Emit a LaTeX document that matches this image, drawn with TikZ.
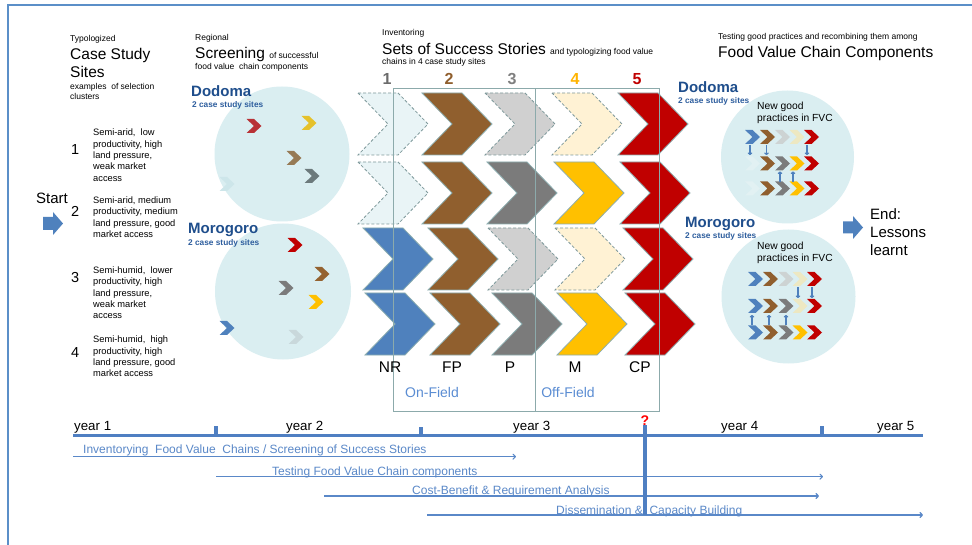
\documentclass[tikz,border=0pt]{standalone}
\usepackage{fontspec}
\setmainfont{Liberation Sans}
\usetikzlibrary{arrows.meta}

\definecolor{frameblue}{HTML}{5B8FC8}
\definecolor{cNR}{HTML}{4F81BD}
\definecolor{cFP}{HTML}{905F2E}
\definecolor{cP}{HTML}{7B7B7B}
\definecolor{cPl}{HTML}{D0D0D0}
\definecolor{cM}{HTML}{FFC000}
\definecolor{cMl}{HTML}{FFF2D4}
\definecolor{cCP}{HTML}{C00000}
\definecolor{cGhost}{HTML}{E9F4F6}
\definecolor{edgec}{HTML}{8DAEB0}
\definecolor{dashc}{HTML}{7E999B}
\definecolor{boxc}{HTML}{8CAAAB}
\definecolor{circ}{HTML}{DAEEF1}
\definecolor{sitec}{HTML}{1F4E8C}
\definecolor{sitesubc}{HTML}{2E5E9E}
\definecolor{tlc}{HTML}{4F7FC2}
\definecolor{tltext}{HTML}{5A88C8}
\definecolor{fieldc}{HTML}{5B8DD3}
\definecolor{numgray}{HTML}{6B6B6B}
\definecolor{numgray2}{HTML}{7F7F7F}
\definecolor{numyel}{HTML}{FFB400}
\definecolor{tinyl}{HTML}{CDD3D3}
\definecolor{tinycream}{HTML}{EDE8C2}
\definecolor{tinyfaint}{HTML}{E2F1F3}
% muted colours of the screening markers
\definecolor{mred}{HTML}{B83236}
\definecolor{myel}{HTML}{E5C12B}
\definecolor{mbrown}{HTML}{967A55}
\definecolor{mgray}{HTML}{6C7A7C}
\definecolor{mfaint}{HTML}{CDE6EA}
\definecolor{mbrown2}{HTML}{946230}
\definecolor{mfaint2}{HTML}{C9D8DB}

\tikzset{
  pics/bigchev/.style={code={\path[pic actions] (0,0) -- (40,0) -- (70,31) -- (40,62) -- (0,62) -- (30,31) -- cycle;}},
  pics/tinychev/.style={code={\path[pic actions] (-7.5,-7) -- (0,-7) -- (7.5,0) -- (0,7) -- (-7.5,7) -- (0,0) -- cycle;}},
  solidchev/.style={draw=edgec, line width=0.8pt},
  ghostchev/.style={draw=dashc, line width=0.8pt, dash pattern=on 3pt off 2pt},
  % multi-line labels are placed by the baseline of their last line
  lbl/.style={inner sep=0pt, anchor=base west},
  lblcap/.style={lbl, font=\fontsize{8.5}{10.5}\selectfont},
  lblhead/.style={lbl, font=\fontsize{15.5}{18.4}\selectfont, align=left},
  lblsite/.style={lbl, font=\fontsize{15}{18}\bfseries\selectfont, text=sitec},
  lblsitesub/.style={lbl, font=\fontsize{8.3}{10}\bfseries\selectfont, text=sitesubc},
  lbldesc/.style={lbl, font=\fontsize{9.3}{11.4}\selectfont, align=left},
  lblnum/.style={lbl, font=\fontsize{14.5}{17}\selectfont},
  lblcolnum/.style={inner sep=0pt, anchor=base, font=\fontsize{16}{18}\bfseries\selectfont},
  lblcol/.style={inner sep=0pt, anchor=base, font=\fontsize{15.5}{18}\selectfont},
  lblfield/.style={inner sep=0pt, anchor=base, font=\fontsize{14}{17}\selectfont, text=fieldc},
  lblnew/.style={lbl, font=\fontsize{10.3}{11.7}\selectfont, align=left},
  lblbig/.style={lbl, font=\fontsize{15}{18.3}\selectfont, align=left},
  lblyear/.style={lbl, font=\fontsize{13.3}{16}\selectfont},
  lbltl/.style={lbl, font=\fontsize{12}{14}\selectfont, text=tltext},
  tlarrow/.style={draw=tltext, line width=1.1pt, -{To[length=3.5pt,width=6pt]}},
  tlbar/.style={draw=tlc, line width=3.5pt},
  swaparrow/.style={draw=cNR, line width=1.2pt, -{To[length=2.5pt,width=4.5pt]}},
  blockarrow/.style={fill=cNR},
  sitecircle/.style={fill=circ},
}

\begin{document}
\begin{tikzpicture}[x=1pt,y=-1pt]
\useasboundingbox (0,0) rectangle (972,545);
\fill[white] (0,0) rectangle (972,545);
\clip (0,0) rectangle (972,545);

% page frame
\draw[frameblue, line width=2pt] (8.3,600) -- (8.3,5.5) -- (1000,5.5);

% ---------------- headings ----------------
\node[lblcap] (typ) at (70,41.5) {Typologized};
\node[lblhead] (cs) at (70,77.7) {Case Study\\Sites};
\node[lblcap, align=left] (csx) at (70,100) {examples\ \ of selection\\clusters};

\node[lblcap] (reg) at (195,40.7) {Regional};
\node[lbl] (scr) at (195,58.3) {\fontsize{15.5}{18}\selectfont Screening \fontsize{8.5}{10}\selectfont of successful};
\node[lblcap] (scr2) at (195,69.3) {food value\ \ chain components};

\node[lblcap] (inv) at (382,36) {Inventoring};
\node[lbl] (sss) at (382,55) {\fontsize{15.5}{18}\selectfont Sets of Success Stories \fontsize{8.5}{10}\selectfont and typologizing food value};
\node[lblcap] (sss2) at (382,65) {chains in 4 case study sites};

\node[lblcap] (tst) at (718,40) {Testing good practices and recombining them among};
\node[lbl, font=\fontsize{15.5}{18}\selectfont] (fvc) at (718,57.3) {Food Value Chain Components};

% ---------------- left column: case study sites ----------------
\node[lblbig] (start) at (36,204) {Start};
\path[blockarrow] (43,217) -- (53,217) -- (53,212) -- (63,223.5) -- (53,235) -- (53,230) -- (43,230) -- cycle;

\node[lblnum] (n1) at (71,155) {1};
\node[lblnum] (n2) at (71,217) {2};
\node[lblnum] (n3) at (71,283) {3};
\node[lblnum] (n4) at (71,357) {4};
\node[lbldesc] (d1) at (93,181.3) {Semi-arid,\ \ low\\productivity,\ high\\land pressure,\\weak market\\access};
\node[lbldesc] (d2) at (93,237.5) {Semi-arid,\ medium\\productivity,\ medium\\land pressure,\ good\\market access};
\node[lbldesc] (d3) at (93,318.9) {Semi-humid,\ \ lower\\productivity,\ high\\land pressure,\\weak market\\access};
\node[lbldesc] (d4) at (93,376.9) {Semi-humid,\ \ high\\productivity,\ high\\land pressure,\ good\\market access};

% ---------------- regional screening circles ----------------
\fill[sitecircle] (282,154) circle (67.5);
\fill[sitecircle] (283,291.5) circle (68);
\node[lblsite] (dodL) at (191,96.7) {Dodoma};
\node[lblsitesub] (dodLs) at (192,107.3) {2 case study sites};
\node[lblsite] (morL) at (188,234) {Morogoro};
\node[lblsitesub] (morLs) at (188,246) {2 case study sites};

\pic[fill=mred]   at (254,126) {tinychev};
\pic[fill=myel]   at (309,123) {tinychev};
\pic[fill=mbrown] at (294,158) {tinychev};
\pic[fill=mgray]  at (312,176) {tinychev};
\pic[fill=mfaint] at (227,184) {tinychev};

\pic[fill=cCP]     at (295,245) {tinychev};
\pic[fill=mbrown2] at (322,274) {tinychev};
\pic[fill=cP]      at (286,288) {tinychev};
\pic[fill=cM]      at (316,302) {tinychev};
\pic[fill=cNR]     at (227,328) {tinychev};
\pic[fill=mfaint2] at (296,337) {tinychev};

% ---------------- sets of success stories ----------------
\node[lblcolnum, text=numgray]  (c1) at (387,85) {1};
\node[lblcolnum, text=cFP]      (c2) at (449,85) {2};
\node[lblcolnum, text=numgray2] (c3) at (512,85) {3};
\node[lblcolnum, text=numyel]   (c4) at (575,85) {4};
\node[lblcolnum, text=cCP]      (c5) at (637,85) {5};

% row 1
\pic[ghostchev, fill=cGhost] at (358,93) {bigchev};
\pic[solidchev, fill=cFP]    at (422,93) {bigchev};
\pic[ghostchev, fill=cPl]    at (485,93) {bigchev};
\pic[ghostchev, fill=cMl]    at (552,93) {bigchev};
\pic[solidchev, fill=cCP]    at (618,93) {bigchev};
% row 2
\pic[ghostchev, fill=cGhost] at (358,162) {bigchev};
\pic[solidchev, fill=cFP]    at (422,162) {bigchev};
\pic[solidchev, fill=cP]     at (487,162) {bigchev};
\pic[solidchev, fill=cM]     at (554,162) {bigchev};
\pic[solidchev, fill=cCP]    at (620,162) {bigchev};
% row 3
\pic[solidchev, fill=cNR]    at (363,228) {bigchev};
\pic[solidchev, fill=cFP]    at (428,228) {bigchev};
\pic[ghostchev, fill=cPl]    at (488,228) {bigchev};
\pic[ghostchev, fill=cMl]    at (555,228) {bigchev};
\pic[solidchev, fill=cCP]    at (623,228) {bigchev};
% row 4
\pic[solidchev, fill=cNR]    at (365,293) {bigchev};
\pic[solidchev, fill=cFP]    at (430,293) {bigchev};
\pic[solidchev, fill=cP]     at (492,293) {bigchev};
\pic[solidchev, fill=cM]     at (557,293) {bigchev};
\pic[solidchev, fill=cCP]    at (625,293) {bigchev};

% on-field / off-field frames
\draw[boxc, line width=1pt] (393,89) rectangle (659,411);
\draw[boxc, line width=1pt] (535,89) -- (535,411);

\node[lblcol] (nr) at (390,373) {NR};
\node[lblcol] (fp) at (452,373) {FP};
\node[lblcol] (pp) at (510,373) {P};
\node[lblcol] (mm) at (575,373) {M};
\node[lblcol] (cp) at (640,373) {CP};
\node[lblfield] (onf)  at (432,397) {On-Field};
\node[lblfield] (offf) at (568,397) {Off-Field};

% ---------------- recombination circles ----------------
\fill[sitecircle] (787.5,157) circle (66.5);
\fill[sitecircle] (788.5,296.5) circle (67);
\node[lblsite] (dodR) at (678,93) {Dodoma};
\node[lblsitesub] (dodRs) at (678,104) {2 case study sites};
\node[lblsite] (morR) at (685,228) {Morogoro};
\node[lblsitesub] (morRs) at (685,239) {2 case study sites};
\node[lblnew] (ngD) at (757,121.7) {New good\\practices in FVC};
\node[lblnew] (ngM) at (757,261.7) {New good\\practices in FVC};

% Dodoma recombination
\foreach \xx/\cc in {752.5/cNR, 767.5/cFP, 782.5/tinyl, 797/tinycream, 811.5/cCP}
  \pic[fill=\cc] at (\xx,137) {tinychev};
\foreach \xx/\cc in {752.5/tinyfaint, 767.5/cFP, 782.5/cP, 797/cM, 811.5/cCP}
  \pic[fill=\cc] at (\xx,163.5) {tinychev};
\foreach \xx/\cc in {752.5/tinyfaint, 767.5/cFP, 782.5/cP, 797/cM, 811.5/cCP}
  \pic[fill=\cc] at (\xx,188.5) {tinychev};
\coordinate (dA1) at (750,145); \coordinate (dA2) at (750,155);
\coordinate (dB1) at (766.5,145); \coordinate (dB2) at (766.5,155);
\coordinate (dC1) at (807,145); \coordinate (dC2) at (807,155);
\coordinate (dD1) at (780,182); \coordinate (dD2) at (780,171.5);
\coordinate (dE1) at (793,182); \coordinate (dE2) at (793,171.5);
\draw[swaparrow] (dA1) -- (dA2);
\draw[swaparrow] (dB1) -- (dB2);
\draw[swaparrow] (dC1) -- (dC2);
\draw[swaparrow] (dD1) -- (dD2);
\draw[swaparrow] (dE1) -- (dE2);

% Morogoro recombination
\foreach \xx/\cc in {755.5/cNR, 770.5/cFP, 786/tinyl, 800/tinycream, 814.5/cCP}
  \pic[fill=\cc] at (\xx,279) {tinychev};
\foreach \xx/\cc in {755.5/cNR, 770.5/cFP, 786/cP, 800/tinycream, 814.5/cCP}
  \pic[fill=\cc] at (\xx,306) {tinychev};
\foreach \xx/\cc in {755.5/cNR, 770.5/cFP, 786/cP, 800/cM, 814.5/cCP}
  \pic[fill=\cc] at (\xx,332.5) {tinychev};
\coordinate (mA1) at (798,287.5); \coordinate (mA2) at (798,298);
\coordinate (mB1) at (812,287.5); \coordinate (mB2) at (812,298);
\coordinate (mC1) at (752,325); \coordinate (mC2) at (752,315);
\coordinate (mD1) at (769,325); \coordinate (mD2) at (769,315);
\coordinate (mE1) at (786,325); \coordinate (mE2) at (786,315);
\draw[swaparrow] (mA1) -- (mA2);
\draw[swaparrow] (mB1) -- (mB2);
\draw[swaparrow] (mC1) -- (mC2);
\draw[swaparrow] (mD1) -- (mD2);
\draw[swaparrow] (mE1) -- (mE2);

% end
\path[blockarrow] (843,221.5) -- (853,221.5) -- (853,216) -- (863,227.5) -- (853,239) -- (853,233.5) -- (843,233.5) -- cycle;
\node[lblbig] (endl) at (870,255.7) {End:\\Lessons\\learnt};

% ---------------- time line ----------------
\coordinate (t0) at (73,435.5);
\coordinate (t1) at (216,435.5);
\coordinate (t2) at (421,435.5);
\coordinate (t3) at (645,435.5);
\coordinate (t4) at (822,435.5);
\coordinate (t5) at (923,435.5);
\draw[tlbar] (t0) -- (t5);
\draw[tlbar] (t1) -- ++(0,-10);
\draw[tlbar] (t2) -- ++(0,-9);
\draw[tlbar] (t4) -- ++(0,-10);
\node[lblyear] (y1) at (74,430) {year 1};
\node[lblyear] (y2) at (286,430) {year 2};
\node[lblyear] (y3) at (513,430) {year 3};
\node[lblyear] (y4) at (721,430) {year 4};
\node[lblyear] (y5) at (877,430) {year 5};
\node[inner sep=0pt, anchor=base, font=\fontsize{14}{16}\bfseries\selectfont, text=red] (q) at (645,425) {?};

\coordinate (a1s) at (73,456.7);  \coordinate (a1e) at (516,456.7);
\coordinate (a2s) at (216,476.7); \coordinate (a2e) at (823,476.7);
\coordinate (a3s) at (324,496);   \coordinate (a3e) at (819,496);
\coordinate (a4s) at (427,515);   \coordinate (a4e) at (923,515);
\draw[tlarrow] (a1s) -- (a1e);
\draw[tlarrow] (a2s) -- (a2e);
\draw[tlarrow] (a3s) -- (a3e);
\draw[tlarrow] (a4s) -- (a4e);
\node[lbltl] (p1) at (83,453) {Inventorying\ \ Food Value\ \ Chains / Screening of Success Stories};
\node[lbltl] (p2) at (272,475) {Testing Food Value Chain components};
\node[lbltl] (p3) at (412,494) {Cost-Benefit \& Requirement Analysis};
\node[lbltl] (p4) at (556,514) {Dissemination \&\ \ Capacity Building};

% decision mark
\coordinate (v1) at (645,425);
\coordinate (v2) at (645,515);
\draw[draw=tlc, line width=4pt] (v1) -- (v2);
\end{tikzpicture}
\end{document}
